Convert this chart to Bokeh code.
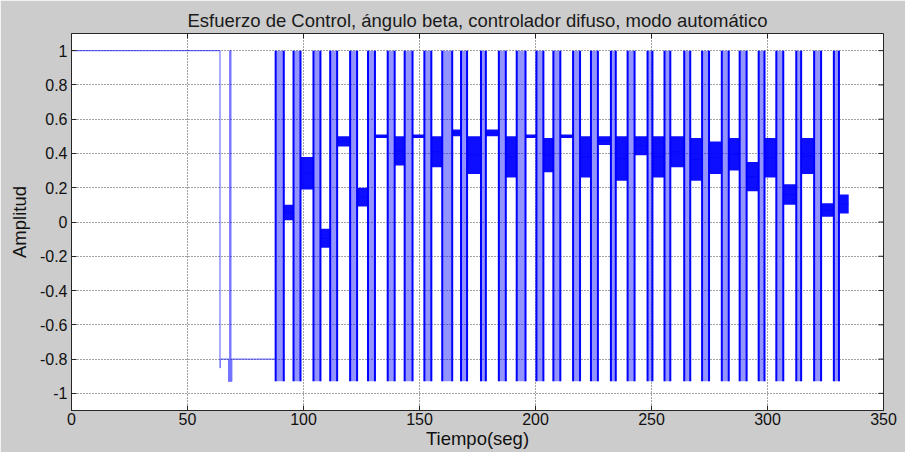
from bokeh.plotting import figure
from bokeh.models import FixedTicker, Range1d, ColumnDataSource
from bokeh.embed import file_html
from bokeh.resources import INLINE

TITLE = "Esfuerzo de Control, ángulo beta, controlador difuso, modo automático"
X_LABEL = "Tiempo(seg)"
Y_LABEL = "Amplitud"

x_ticks = [0, 50, 100, 150, 200, 250, 300, 350]
x_tick_labels = ["0", "50", "100", "150", "200", "250", "300", "350"]
y_ticks = [-1, -0.8, -0.6, -0.4, -0.2, 0, 0.2, 0.4, 0.6, 0.8, 1]
y_tick_labels = ["-1", "-0.8", "-0.6", "-0.4", "-0.2", "0", "0.2", "0.4", "0.6", "0.8", "1"]

# initial (manual) section of the control signal, step function
step_t = [0.0, 64.0, 64.15, 67.7, 68.2, 68.7, 69.1, 88.0]
step_v = [1.0, -0.85, -0.8, -0.93, 1.0, -0.93, -0.8, -0.8]

# saturation pulses of the automatic mode (start / end times, seconds)
pulse_start = [88.0, 95.7, 104.3, 111.5, 120.1, 127.8, 136.3, 143.6, 152.1, 159.8,
               167.9, 176.5, 184.2, 191.9, 200.4, 207.7, 216.2, 223.9, 232.5, 239.7,
               248.3, 255.6, 264.1, 271.8, 280.3, 288.0, 296.2, 303.8, 312.4, 320.1,
               328.6]
pulse_end = [91.5, 98.7, 107.3, 114.5, 123.1, 130.8, 139.3, 147.0, 155.1, 164.1,
             170.5, 178.6, 187.2, 195.7, 203.4, 210.7, 219.2, 226.9, 234.6, 242.7,
             250.4, 258.1, 266.7, 274.8, 283.3, 291.0, 298.7, 306.8, 314.5, 323.1,
             330.8]
pulse_high = 1.0
pulse_low = -0.93

# noisy level band after each pulse (lower / upper amplitude)
band_lo = [0.01, 0.19, -0.15, 0.44, 0.09, 0.49, 0.33, 0.49, 0.32, 0.50,
           0.28, 0.50, 0.26, 0.49, 0.29, 0.49, 0.26, 0.45, 0.24, 0.39,
           0.26, 0.32, 0.24, 0.28, 0.30, 0.18, 0.26, 0.10, 0.28, 0.03,
           0.05]
band_hi = [0.10, 0.38, -0.04, 0.50, 0.20, 0.51, 0.50, 0.51, 0.50, 0.54,
           0.50, 0.54, 0.50, 0.51, 0.49, 0.51, 0.50, 0.50, 0.50, 0.50,
           0.50, 0.50, 0.49, 0.47, 0.49, 0.35, 0.49, 0.22, 0.49, 0.11,
           0.16]
signal_end = 335.0

FONT = "Liberation Sans"
BG = "#cccccc"
BLUE = "#0000ff"
AX = "#262626"

W, H = 905, 452
BL, BR, BT, BB = 71, 22, 33, 42
X0, X1, Y0, Y1 = 0, 350, -1.1, 1.1

p = figure(width=W, height=H, output_backend="svg", toolbar_location=None,
           x_range=Range1d(X0, X1), y_range=Range1d(Y0, Y1),
           min_border_left=BL, min_border_right=BR, min_border_top=BT, min_border_bottom=BB,
           background_fill_color="white", border_fill_color=BG,
           outline_line_color=AX, outline_line_width=1)

p.title.text = TITLE
p.title.align = "center"
p.title.text_font = FONT
p.title.text_font_size = "18.5px"
p.title.text_font_style = "normal"
p.title.text_color = "#1a1a1a"
p.title.standoff = 6

# grid
p.xgrid.ticker = FixedTicker(ticks=x_ticks)
p.ygrid.ticker = FixedTicker(ticks=y_ticks)
for g in (p.xgrid, p.ygrid):
    g.grid_line_color = "#333333"
    g.grid_line_dash = "1 2"
    g.grid_line_width = 1
    g.grid_line_alpha = 0.9

# axes
for ax, ticks, labels in ((p.xaxis[0], x_ticks, x_tick_labels), (p.yaxis[0], y_ticks, y_tick_labels)):
    ax.ticker = FixedTicker(ticks=ticks)
    ax.major_label_overrides = {t: l for t, l in zip(ticks, labels)}
    ax.major_tick_in = 5
    ax.major_tick_out = 0
    ax.minor_tick_line_color = None
    ax.major_tick_line_color = AX
    ax.axis_line_color = AX
    ax.major_label_text_font = FONT
    ax.major_label_text_font_size = "16px"
    ax.major_label_text_color = "#111111"
    ax.axis_label_text_font = FONT
    ax.axis_label_text_font_size = "18.5px"
    ax.axis_label_text_font_style = "normal"
    ax.axis_label_text_color = "#111111"
p.xaxis[0].axis_label = X_LABEL
p.yaxis[0].axis_label = Y_LABEL
p.xaxis[0].major_label_standoff = 2
p.yaxis[0].major_label_standoff = 4
p.xaxis[0].axis_label_standoff = 0
p.yaxis[0].axis_label_standoff = 7

# mirrored inward ticks on the top and right frame edges (5 px long)
fw, fh = W - BL - BR, H - BT - BB
dx = 5 * (X1 - X0) / fw
dy = 5 * (Y1 - Y0) / fh
p.segment(x0=x_ticks, x1=x_ticks, y0=[Y1] * len(x_ticks), y1=[Y1 - dy] * len(x_ticks),
          line_color=AX, line_width=1)
p.segment(x0=[X1] * len(y_ticks), x1=[X1 - dx] * len(y_ticks), y0=y_ticks, y1=y_ticks,
          line_color=AX, line_width=1)

# initial step section
p.step(step_t, step_v, mode="after", line_color=BLUE, line_alpha=0.55, line_width=1.2)

# pulse bars: light interior plus dark edges
pulse_src = ColumnDataSource(dict(
    left=pulse_start, right=pulse_end,
    bottom=[pulse_low] * len(pulse_start), top=[pulse_high] * len(pulse_start)))
p.quad(left="left", right="right", bottom="bottom", top="top", source=pulse_src,
       fill_color=BLUE, fill_alpha=0.42, line_color=None)
p.segment(x0="left", y0="bottom", x1="left", y1="top", source=pulse_src,
          line_color=BLUE, line_width=2)
p.segment(x0="right", y0="bottom", x1="right", y1="top", source=pulse_src,
          line_color=BLUE, line_width=2)

# noisy level bands between pulses
band_left = pulse_end
band_right = pulse_start[1:] + [signal_end]
band_mid = [(a + b) / 2 for a, b in zip(band_lo, band_hi)]
band_src = ColumnDataSource(dict(left=band_left, right=band_right,
                                 bottom=band_lo, top=band_hi, mid=band_mid))
p.segment(x0="left", y0="mid", x1="right", y1="mid", source=band_src,
          line_color=BLUE, line_alpha=0.55, line_width=1.2)
p.quad(left="left", right="right", bottom="bottom", top="top", source=band_src,
       fill_color=BLUE, fill_alpha=0.95, line_color=None)

open("out.html", "w").write(file_html(p, INLINE))
